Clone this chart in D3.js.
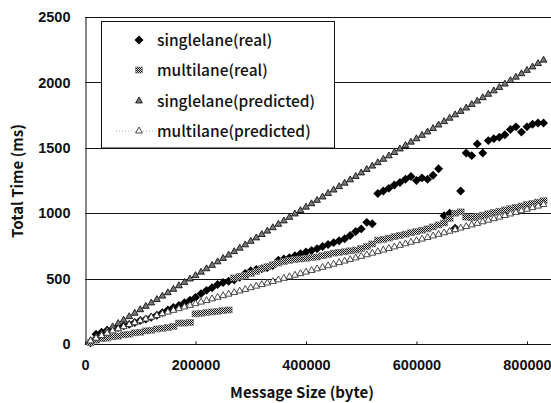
<!DOCTYPE html>
<html>
<head>
<meta charset="utf-8">
<script src="https://cdn.jsdelivr.net/npm/d3@7"></script>
<style>
body{margin:0;background:#fff;}
svg{display:block;font-family:"Noto Sans CJK JP","DejaVu Sans",sans-serif;}
</style>
</head>
<body>
<div id="svg-container"></div>
<script>
// message size (byte)
var sizes=[10000,20000,30000,40000,50000,60000,70000,80000,90000,100000,
	110000,120000,130000,140000,150000,160000,170000,180000,190000,200000,
	210000,220000,230000,240000,250000,260000,270000,280000,290000,300000,
	310000,320000,330000,340000,350000,360000,370000,380000,390000,400000,
	410000,420000,430000,440000,450000,460000,470000,480000,490000,500000,
	510000,520000,530000,540000,550000,560000,570000,580000,590000,600000,
	610000,620000,630000,640000,650000,660000,670000,680000,690000,700000,
	710000,720000,730000,740000,750000,760000,770000,780000,790000,800000,
	810000,820000,830000];

// total time (ms)
var singleReal=[10,75,90,105,115,125,140,150,165,180,
	190,205,220,240,260,280,295,315,335,355,
	385,410,430,455,470,480,490,510,540,560,
	570,575,585,600,640,650,660,675,690,703,
	715,728,745,760,775,790,805,830,860,880,
	930,920,1150,1170,1190,1215,1235,1260,1280,1250,
	1270,1260,1290,1340,980,1000,885,1170,1460,1440,
	1530,1460,1555,1570,1580,1600,1640,1660,1620,1660,
	1680,1690,1690];

var multiReal=[10,30,40,45,55,60,70,75,85,90,
	100,105,115,120,125,135,160,160,165,230,
	235,240,245,250,255,260,505,515,525,540,
	555,575,590,605,619,630,640,645,650,655,
	660,665,675,685,695,700,705,712,718,730,
	745,765,794,800,810,820,830,840,850,860,
	870,880,895,910,925,960,1000,1010,970,965,
	975,985,995,1005,1015,1025,1035,1045,1055,1065,
	1075,1085,1095];

var singlePred=[26,52,78,105,131,157,183,209,235,262,
	288,314,340,366,392,418,445,471,497,523,
	549,575,601,628,654,680,706,732,758,785,
	811,837,863,889,915,941,968,994,1020,1046,
	1072,1098,1124,1151,1177,1203,1229,1255,1281,1308,
	1334,1360,1386,1412,1438,1464,1491,1517,1543,1569,
	1595,1621,1647,1674,1700,1726,1752,1778,1804,1831,
	1857,1883,1909,1935,1961,1987,2014,2040,2066,2092,
	2118,2144,2170];

var multiPred=[23,44,64,82,100,116,132,148,162,177,
	191,205,218,231,244,257,270,283,295,308,
	320,332,345,357,369,381,393,405,417,430,
	442,454,466,478,490,502,514,526,538,550,
	562,574,586,598,610,622,634,646,658,670,
	682,694,706,718,730,742,754,766,778,790,
	802,814,826,838,850,862,874,886,898,910,
	922,934,946,958,970,982,994,1006,1018,1030,
	1042,1054,1066];

var seriesNames=["singlelane(real)","multilane(real)","singlelane(predicted)","multilane(predicted)"];
var xTicks=[0,200000,400000,600000,800000];
var yTicks=[0,500,1000,1500,2000,2500];

//全域設定
var width=551,height=403;
var plotLeft=85,plotTop=17,plotBottom=344;

var x=d3.scaleLinear().domain([0,850000]).range([plotLeft,plotLeft+469.6]);
var y=d3.scaleLinear().domain([0,2500]).range([plotBottom,plotTop]);

var svg=d3.select("#svg-container").append("svg").attr("width",width).attr("height",height);

// checker pattern for multilane(real)
var defs=svg.append("defs");
var pat=defs.append("pattern").attr("id","chk").attr("width",2).attr("height",2).attr("patternUnits","userSpaceOnUse");
pat.append("rect").attr("width",2).attr("height",2).attr("fill","#ddd");
pat.append("rect").attr("width",1).attr("height",1).attr("fill","#111");
pat.append("rect").attr("x",1).attr("y",1).attr("width",1).attr("height",1).attr("fill","#111");

// grid lines
svg.append("g").selectAll("line").data(yTicks.slice(1)).enter().append("line")
	.attr("x1",plotLeft).attr("x2",width)
	.attr("y1",function(d){return Math.round(y(d))+0.5}).attr("y2",function(d){return Math.round(y(d))+0.5})
	.attr("stroke","#111").attr("stroke-width",1);

// axes
var yAxis=d3.axisLeft(y).tickValues(yTicks).tickSize(0).tickPadding(15).tickFormat(d3.format("d"));
var gy=svg.append("g").attr("transform","translate("+(plotLeft+0.5)+",0)").call(yAxis);
gy.select(".domain").attr("stroke","#111");
gy.selectAll("text").attr("font-size",14.5).attr("font-weight","bold").attr("fill","#111");

var xAxis=d3.axisBottom(x).tickValues(xTicks).tickSize(-3).tickPadding(15).tickFormat(d3.format("d"));
var gx=svg.append("g").attr("transform","translate(0,"+(plotBottom+0.5)+")").call(xAxis);
gx.select(".domain").attr("stroke","#111").attr("d","M"+plotLeft+",0H"+width);
gx.selectAll(".tick line").attr("stroke","#111");
gx.selectAll("text").attr("font-size",14.5).attr("font-weight","bold").attr("fill","#111");

// axis titles
svg.append("text").text("Total Time (ms)")
	.attr("transform","translate(23,181) rotate(-90)")
	.attr("text-anchor","middle").attr("font-size",15).attr("font-weight","bold").attr("fill","#111");
svg.append("text").text("Message Size (byte)")
	.attr("x",302).attr("y",398)
	.attr("text-anchor","middle").attr("font-size",15).attr("font-weight","bold").attr("fill","#111");

// marker styles
var diamond=d3.symbol().type(d3.symbolSquare).size(40);
var tri=d3.symbol().type(d3.symbolTriangle).size(20);

var drawSingleReal=function(g,px,py){
	g.append("path").attr("d",diamond()).attr("transform","translate("+px+","+py+") rotate(45)").attr("fill","#000");
};
var drawMultiReal=function(g,px,py){
	g.append("rect").attr("x",px-3.5).attr("y",py-3).attr("width",7).attr("height",6)
		.attr("fill","url(#chk)").attr("stroke","#777").attr("stroke-width",0.6);
};
var drawSinglePred=function(g,px,py){
	g.append("path").attr("d",tri()).attr("transform","translate("+px+","+py+")")
		.attr("fill","#777").attr("stroke","#111").attr("stroke-width",0.9);
};
var drawMultiPred=function(g,px,py){
	g.append("path").attr("d",tri()).attr("transform","translate("+px+","+py+")")
		.attr("fill","#fff").attr("stroke","#333").attr("stroke-width",0.9);
};

var plot=svg.append("g");
var series=[singleReal,multiReal,singlePred,multiPred];
var drawers=[drawSingleReal,drawMultiReal,drawSinglePred,drawMultiPred];

// dotted line for multilane(predicted)
plot.append("path").datum(multiPred)
	.attr("d",d3.line().x(function(d,i){return x(sizes[i])}).y(function(d){return y(d)}))
	.attr("fill","none").attr("stroke","#999").attr("stroke-width",0.8).attr("stroke-dasharray","1,2");

for(var s=0;s<series.length;s++){
	var gs=plot.append("g");
	for(var i=0;i<sizes.length;i++){
		drawers[s](gs,x(sizes[i]),y(series[s][i]));
	}
}

// legend
var lg=svg.append("g");
lg.append("rect").attr("x",101.5).attr("y",21.5).attr("width",233).attr("height",126.5)
	.attr("fill","#fff").attr("stroke","#111").attr("stroke-width",1);
var rowY=[40,70,101,131];
lg.append("line").attr("x1",116).attr("x2",160).attr("y1",rowY[3]).attr("y2",rowY[3])
	.attr("stroke","#999").attr("stroke-width",0.8).attr("stroke-dasharray","1,2");
for(var j=0;j<seriesNames.length;j++){
	drawers[j](lg,139,rowY[j]);
	lg.append("text").text(seriesNames[j]).attr("x",157).attr("y",rowY[j]+5.5)
		.attr("font-size",15.5).attr("font-weight",500).attr("fill","#111");
}
</script>
</body>
</html>
